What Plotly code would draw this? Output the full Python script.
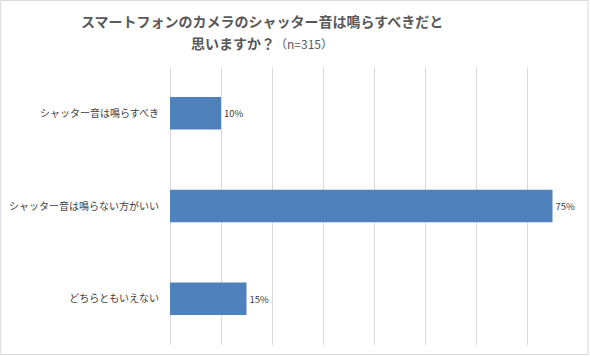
import plotly.graph_objects as go

categories = ["シャッター音は鳴らすべき", "シャッター音は鳴らない方がいい", "どちらともいえない"]
values = [0.10, 0.75, 0.15]
value_labels = ["10%", "75%", "15%"]
title_line1 = "スマートフォンのカメラのシャッター音は鳴らすべきだと"
title_line2 = "思いますか？"
title_note = "（n=315）"

W, H = 590, 356
ml, mr, mt, mb = 170, 11.5, 67, 11
pw = W - ml - mr
ph = H - mt - mb

font = "Noto Sans CJK JP, sans-serif"


def py(pixel_y):
    return (H - mb - pixel_y) / ph


def px(pixel_x):
    return (pixel_x - ml) / pw


fig = go.Figure(go.Bar(
    x=values, y=categories, orientation="h",
    marker=dict(color="#4F81BD", line=dict(width=0)),
    width=0.35,
    text=value_labels, textposition="outside",
    textfont=dict(size=9.5, color="#404040", family=font),
    cliponaxis=False,
))

fig.update_layout(
    width=W, height=H,
    margin=dict(l=ml, r=mr, t=mt, b=mb, autoexpand=False),
    paper_bgcolor="white", plot_bgcolor="white",
    showlegend=False,
    font=dict(family=font, color="#404040"),
    xaxis=dict(
        range=[0, 0.8], dtick=0.1, showticklabels=False, ticks="",
        showgrid=True, gridcolor="#D9D9D9", gridwidth=1,
        zeroline=True, zerolinecolor="#D9D9D9", zerolinewidth=1,
        showline=False, fixedrange=True,
    ),
    yaxis=dict(
        categoryorder="array", categoryarray=categories, autorange="reversed",
        tickfont=dict(size=10, color="#404040", family=font),
        ticks="", showline=False, showgrid=False, ticklabelstandoff=10,
        fixedrange=True,
    ),
    annotations=[
        dict(text="<b>" + title_line1 + "</b>", xref="paper", yref="paper",
             x=px(262), y=py(21), xanchor="center", yanchor="middle",
             showarrow=False, font=dict(size=14, color="#595959", family=font)),
        dict(text="<b>" + title_line2 + "</b><span style='font-size:12px'>" + title_note + "</span>",
             xref="paper", yref="paper",
             x=px(262), y=py(43), xanchor="center", yanchor="middle",
             showarrow=False, font=dict(size=14, color="#595959", family=font)),
    ],
    shapes=[dict(
        type="rect", xref="paper", yref="paper",
        x0=px(0.5), x1=px(W - 1.5),
        y0=py(H - 1.5), y1=py(0.5),
        line=dict(color="#D9D9D9", width=1), fillcolor="rgba(0,0,0,0)",
        layer="below",
    )],
)

fig.write_html("out.html", config={"displayModeBar": False},
               post_script="document.body.style.margin='0';")
